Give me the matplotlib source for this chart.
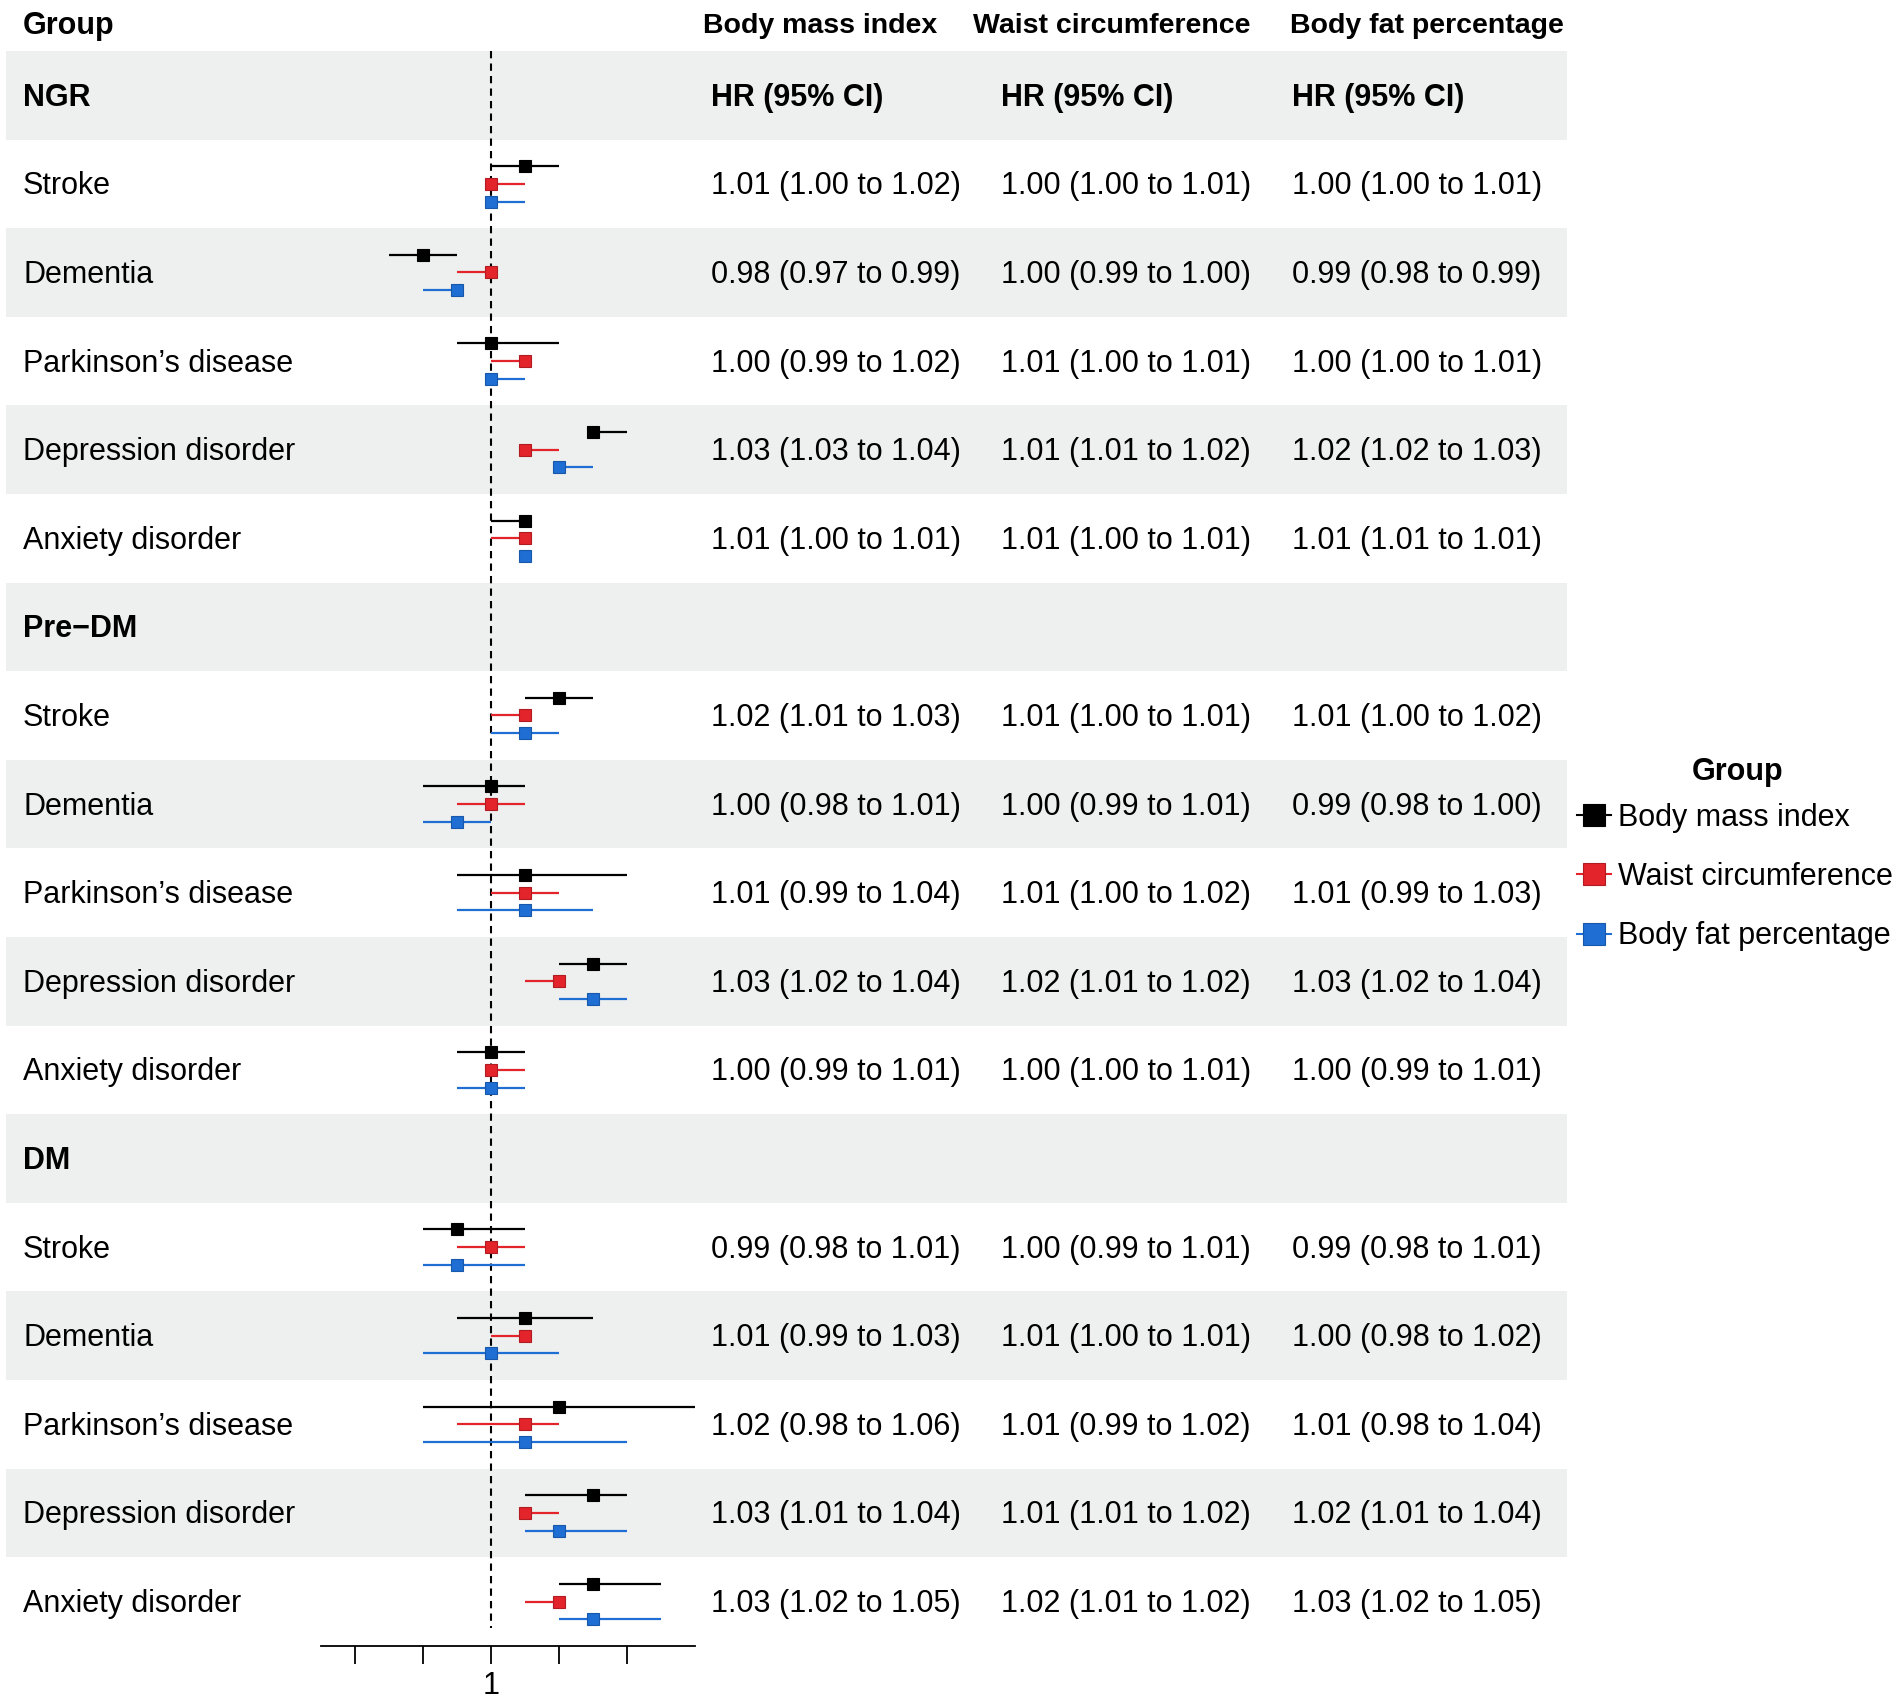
import matplotlib.pyplot as plt
from matplotlib.patches import Rectangle
from matplotlib.lines import Line2D

plt.rcParams['font.family'] = ['Liberation Sans', 'DejaVu Sans']

# data
groups = ['NGR', 'Pre\u2212DM', 'DM']
outcomes = ['Stroke', 'Dementia', 'Parkinson\u2019s disease', 'Depression disorder', 'Anxiety disorder']
measures = ['Body mass index', 'Waist circumference', 'Body fat percentage']
colors = ['#000000', '#E3242B', '#1F6ED4']
edges = ['#000000', '#B01C22', '#1858A8']

# 15 rows: NGR (5), Pre-DM (5), DM (5)
bmi_hr = [1.01, 0.98, 1.00, 1.03, 1.01, 1.02, 1.00, 1.01, 1.03, 1.00, 0.99, 1.01, 1.02, 1.03, 1.03]
bmi_lo = [1.00, 0.97, 0.99, 1.03, 1.00, 1.01, 0.98, 0.99, 1.02, 0.99, 0.98, 0.99, 0.98, 1.01, 1.02]
bmi_hi = [1.02, 0.99, 1.02, 1.04, 1.01, 1.03, 1.01, 1.04, 1.04, 1.01, 1.01, 1.03, 1.06, 1.04, 1.05]

wc_hr = [1.00, 1.00, 1.01, 1.01, 1.01, 1.01, 1.00, 1.01, 1.02, 1.00, 1.00, 1.01, 1.01, 1.01, 1.02]
wc_lo = [1.00, 0.99, 1.00, 1.01, 1.00, 1.00, 0.99, 1.00, 1.01, 1.00, 0.99, 1.00, 0.99, 1.01, 1.01]
wc_hi = [1.01, 1.00, 1.01, 1.02, 1.01, 1.01, 1.01, 1.02, 1.02, 1.01, 1.01, 1.01, 1.02, 1.02, 1.02]

bf_hr = [1.00, 0.99, 1.00, 1.02, 1.01, 1.01, 0.99, 1.01, 1.03, 1.00, 0.99, 1.00, 1.01, 1.02, 1.03]
bf_lo = [1.00, 0.98, 1.00, 1.02, 1.01, 1.00, 0.98, 0.99, 1.02, 0.99, 0.98, 0.98, 0.98, 1.01, 1.02]
bf_hi = [1.01, 0.99, 1.01, 1.03, 1.01, 1.02, 1.00, 1.03, 1.04, 1.01, 1.01, 1.02, 1.04, 1.04, 1.05]

xticks = [0.96, 0.98, 1.00, 1.02, 1.04]
xtick_labels = ['', '', '1', '', '']

series = [(bmi_hr, bmi_lo, bmi_hi), (wc_hr, wc_lo, wc_hi), (bf_hr, bf_lo, bf_hi)]

# layout (pixels)
W, H = 1902, 1703
top, row_h = 51, 88.6
n_rows = len(groups) * (len(outcomes) + 1)
band = '#EEF0EF'
col_x = [711, 1001, 1292]
head_x = [703, 973, 1290]
fs = 22
dy = 2.5  # small nudge so text sits on the row centre like the original

fig = plt.figure(figsize=(W / 100, H / 100), dpi=100)
bg = fig.add_axes([0, 0, 1, 1])
bg.set_xlim(0, W)
bg.set_ylim(H, 0)
bg.axis('off')

for i in range(n_rows):
    if i % 2 == 0:
        bg.add_patch(Rectangle((6, top + i * row_h), 1561, row_h, color=band, lw=0))

bg.text(23, 26, 'Group', fontsize=fs, fontweight='bold', va='center')
for x, m in zip(head_x, measures):
    bg.text(x, 26, m, fontsize=20.5, fontweight='bold', va='center')

# table text
row_pos = []  # row index of each data entry
r = 0
for g in groups:
    yc = top + (r + 0.5) * row_h + dy
    bg.text(23, yc, g, fontsize=fs, fontweight='bold', va='center')
    if r == 0:
        for x in col_x:
            bg.text(x, yc, 'HR (95% CI)', fontsize=fs, fontweight='bold', va='center')
    r += 1
    for o in outcomes:
        yc = top + (r + 0.5) * row_h + dy
        bg.text(23, yc, o, fontsize=fs, va='center')
        row_pos.append(r)
        r += 1

for k, (hr, lo, hi) in enumerate(series):
    for j, rr in enumerate(row_pos):
        yc = top + (rr + 0.5) * row_h + dy
        bg.text(col_x[k], yc, f'{hr[j]:.2f} ({lo[j]:.2f} to {hi[j]:.2f})', fontsize=fs, va='center')

# forest panel
ax = fig.add_axes([321 / W, 1 - (top + n_rows * row_h) / H, 374 / W, n_rows * row_h / H])
ax.patch.set_alpha(0)
ax.set_xlim(0.95, 1.06)
ax.set_ylim(n_rows, 0)

ax.vlines(1, 0, n_rows - 0.2, colors='black', linestyles=(0, (3.5, 2.5)), lw=1.5, zorder=1)

offsets = [-0.2, 0, 0.2]
for k, (hr, lo, hi) in enumerate(series):
    ys = [rr + 0.5 + offsets[k] for rr in row_pos]
    ax.hlines(ys, lo, hi, colors=colors[k], lw=1.6, zorder=2)
    ax.plot(hr, ys, 's', ms=8.5, mfc=colors[k], mec=edges[k], mew=0.8, zorder=3)

ax.set_xticks(xticks)
ax.set_xticklabels(xtick_labels)
ax.set_yticks([])
ax.tick_params(axis='x', length=13, width=1.3, labelsize=fs, pad=5)
for s in ['top', 'right', 'left']:
    ax.spines[s].set_visible(False)
ax.spines['bottom'].set_linewidth(1.3)

# legend
bg.text(1738, 772, 'Group', fontsize=fs, fontweight='bold', ha='center', va='center')
handles = [Line2D([], [], color=c, lw=1.5, marker='s', ms=16.5, mfc=c, mec=e, mew=0.8)
           for c, e in zip(colors, edges)]
fig.legend(handles, measures, loc='center left',
           bbox_to_anchor=(1577 / W, 1 - 877 / H), frameon=False, fontsize=fs,
           handlelength=1.1, handletextpad=0.25, labelspacing=0.96,
           borderpad=0, borderaxespad=0)

fig.savefig('out.png', dpi=100)
